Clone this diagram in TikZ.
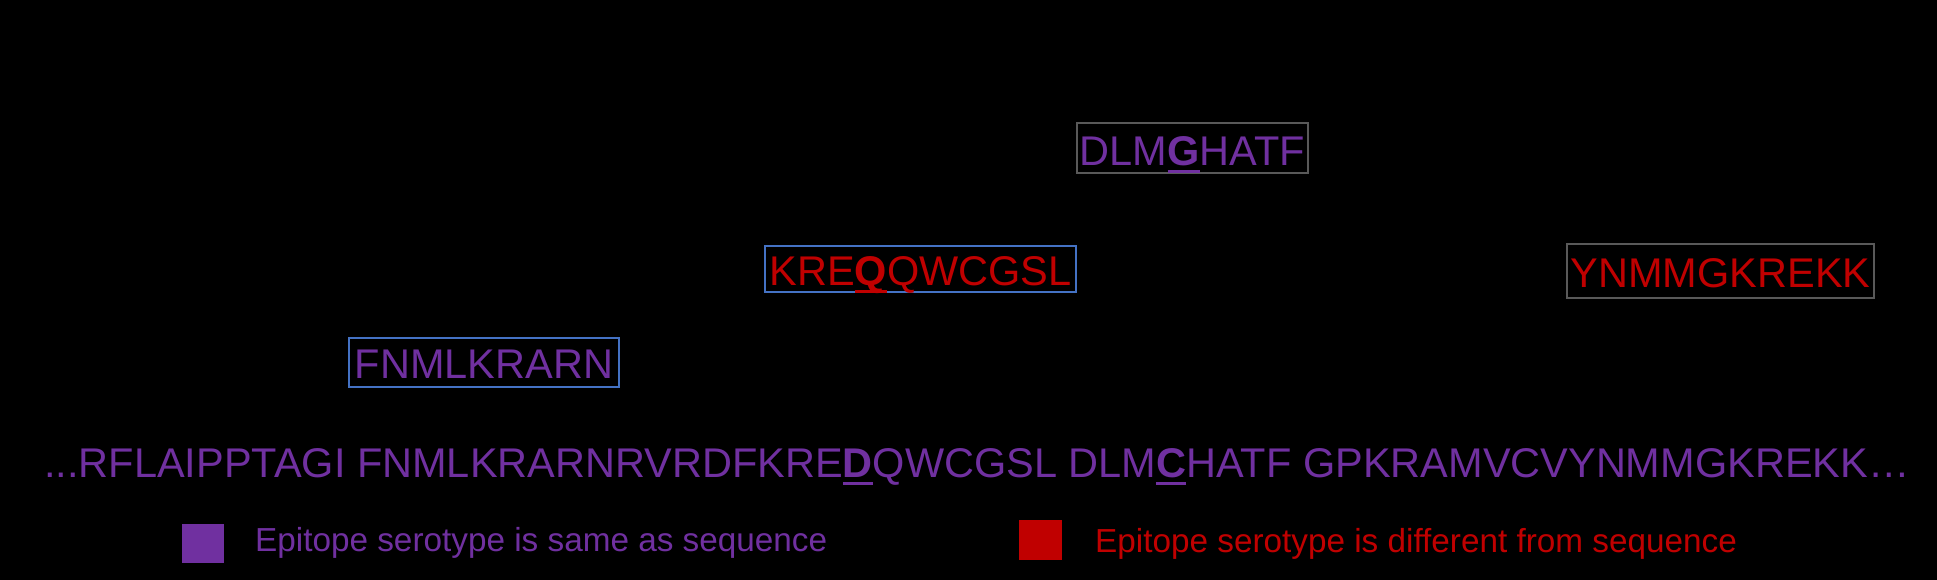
\documentclass[tikz,border=0pt]{standalone}
\usepackage{fontspec}
\setmainfont{Liberation Sans}
\definecolor{epipurple}{HTML}{7030A0}
\definecolor{epired}{HTML}{C00000}
\definecolor{boxblue}{HTML}{4472C4}
\definecolor{boxgrey}{HTML}{595959}
\newcommand\ulmark[1]{\setbox0\hbox{\bfseries #1}\rlap{\smash{\rule[-7.5pt]{\wd0}{3pt}}}\box0}
\tikzset{
  seqfont/.style={font=\fontsize{41.5}{48}\selectfont},
  epibox/.style={seqfont, draw, line width=2pt, inner sep=0pt, text height=32pt, text depth=0pt, anchor=center},
  legtext/.style={font=\fontsize{33.3}{38}\selectfont, inner sep=0pt, anchor=base west},
  legsq/.style={inner sep=0pt, draw=none}
}
\begin{document}
\begin{tikzpicture}[x=1pt,y=-1pt]
  \fill[black] (0,0) rectangle (1937,580);
  \useasboundingbox (0,0) rectangle (1937,580);
  % epitope boxes
  \node[epibox, draw=boxgrey, text=epipurple, minimum width=231pt, minimum height=50pt, text height=35pt] (b1) at (1192.5,148) {DLM\ulmark{G}HATF};
  \node[epibox, draw=boxblue, text=epired, minimum width=311pt, minimum height=46pt] (b2) at (920.5,269) {KRE\ulmark{Q}QWCGSL};
  \node[epibox, draw=boxblue, text=epipurple, minimum width=270pt, minimum height=49pt] (b3) at (484,362.5) {FNMLKRARN};
  \node[epibox, draw=boxgrey, text=epired, minimum width=307pt, minimum height=54pt] (b4) at (1720.5,271) {YNMMGKREKK};
  % sequence
  \node[seqfont, text=epipurple, inner sep=0pt, anchor=base west] (seq) at (44,477)
    {...RFLAIPPTAGI FNMLKRARNRVRDFKRE\ulmark{D}QWCGSL DLM\ulmark{C}HATF GPKRAMVCVYNMMGKREKK…};
  % legend
  \node[legsq, fill=epipurple, minimum width=42pt, minimum height=39pt, anchor=north west] (sq1) at (182,524) {};
  \node[legtext, text=epipurple] (l1) at (255,551) {Epitope serotype is same as sequence};
  \node[legsq, fill=epired, minimum width=43pt, minimum height=40pt, anchor=north west] (sq2) at (1019,520) {};
  \node[legtext, text=epired] (l2) at (1095,552) {Epitope serotype is different from sequence};
\end{tikzpicture}
\end{document}
